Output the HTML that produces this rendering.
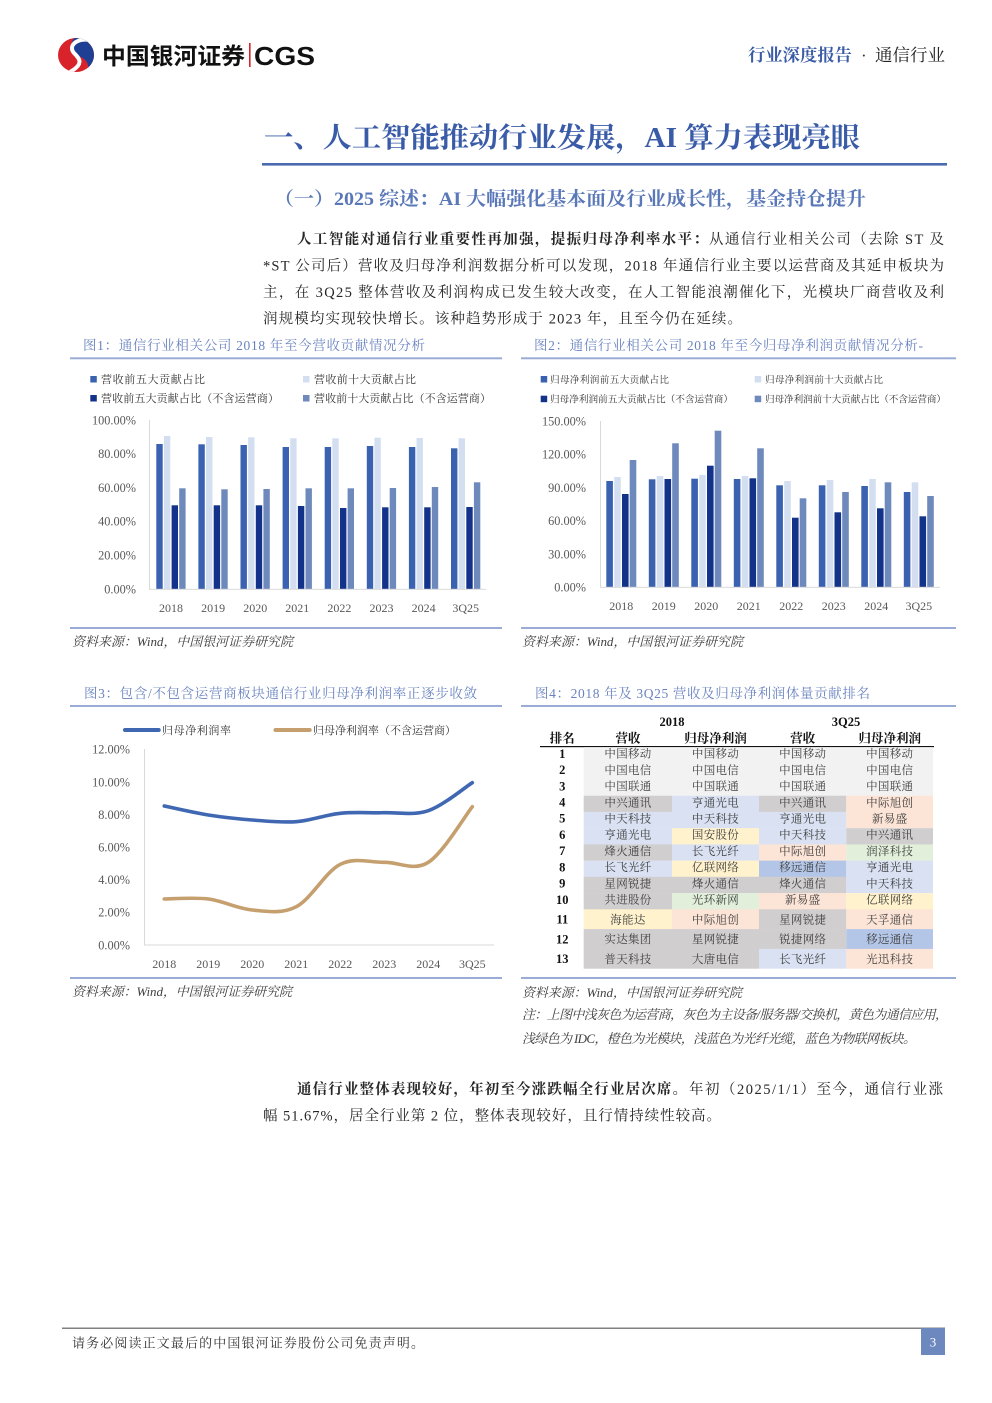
<!DOCTYPE html>
<html><head><meta charset="utf-8"><style>
html,body{margin:0;padding:0;background:#fff;}
svg{display:block;}
.s{font-family:"Liberation Serif","Noto Serif CJK SC",serif;}
.ss{font-family:"Liberation Sans","Noto Sans CJK SC",sans-serif;}
</style></head><body>
<svg width="992" height="1403" viewBox="0 0 992 1403" xmlns="http://www.w3.org/2000/svg">
<rect width="992" height="1403" fill="#fff"/>
<defs><clipPath id="lc"><ellipse cx="76" cy="55" rx="18" ry="17"/></clipPath></defs>
<!-- logo -->
<g clip-path="url(#lc)">
<rect x="56" y="36" width="42" height="40" fill="#d8232a"/>
<path d="M70,36 L100,36 L100,76 L86,76 C92,66 86,58 78,56 C70,53 70,44 74,38 Z" fill="#1f3f95"/>
<path d="M90,40 C76,38 68,46 74,53 C80,59 84,64 70,72" stroke="#fff" stroke-width="4" fill="none"/>
</g>
<text x="102" y="64" class="ss" font-size="23" font-weight="700" fill="#111" textLength="143" lengthAdjust="spacingAndGlyphs">中国银河证券</text>
<rect x="249" y="43" width="1.6" height="24" fill="#d8232a"/>
<text x="254" y="65" class="ss" font-size="26" font-weight="700" fill="#111" textLength="61" lengthAdjust="spacingAndGlyphs">CGS</text>
<text x="748" y="61" class="s" font-size="17" font-weight="700" fill="#3a5ba5" textLength="104" lengthAdjust="spacingAndGlyphs">行业深度报告</text>
<text x="861" y="61" class="s" font-size="17" fill="#333">·</text>
<text x="875" y="61" class="s" font-size="17" fill="#222" textLength="70" lengthAdjust="spacingAndGlyphs">通信行业</text>

<!-- title -->
<text x="264" y="147" class="s" font-size="28" font-weight="700" fill="#3a5ca8" textLength="596" lengthAdjust="spacingAndGlyphs">一、人工智能推动行业发展，AI 算力表现亮眼</text>
<rect x="262" y="163" width="685" height="2.6" fill="#4a6ab0"/>
<text x="274" y="205" class="s" font-size="19" font-weight="700" fill="#5a78b8" textLength="592" lengthAdjust="spacingAndGlyphs">（一）2025 综述：AI 大幅强化基本面及行业成长性，基金持仓提升</text>

<!-- paragraph -->
<g class="s" font-size="14.5" fill="#262626">
<text x="297" y="244" font-weight="700" textLength="411" lengthAdjust="spacing">人工智能对通信行业重要性再加强，提振归母净利率水平：</text>
<text x="709" y="244" textLength="235" lengthAdjust="spacing">从通信行业相关公司（去除 ST 及</text>
<text x="263" y="270.5" textLength="681" lengthAdjust="spacing">*ST 公司后）营收及归母净利润数据分析可以发现，2018 年通信行业主要以运营商及其延申板块为</text>
<text x="263" y="297" textLength="681" lengthAdjust="spacing">主，在 3Q25 整体营收及利润构成已发生较大改变，在人工智能浪潮催化下，光模块厂商营收及利</text>
<text x="263" y="323.5" textLength="479" lengthAdjust="spacing">润规模均实现较快增长。该种趋势形成于 2023 年，且至今仍在延续。</text>
</g>

<!-- captions -->
<g class="s" font-size="13.5" fill="#6a83c0">
<text x="83" y="350" textLength="342" lengthAdjust="spacing">图1：通信行业相关公司 2018 年至今营收贡献情况分析</text>
<text x="534" y="350" textLength="389" lengthAdjust="spacing">图2：通信行业相关公司 2018 年至今归母净利润贡献情况分析-</text>
<text x="84" y="698" textLength="393" lengthAdjust="spacing">图3：包含/不包含运营商板块通信行业归母净利润率正逐步收敛</text>
<text x="535" y="698" textLength="335" lengthAdjust="spacing">图4：2018 年及 3Q25 营收及归母净利润体量贡献排名</text>
</g>
<g fill="#9aabd6">
<rect x="70" y="357.3" width="432" height="2"/>
<rect x="521" y="357.3" width="435" height="2"/>
<rect x="70" y="627" width="432" height="2"/>
<rect x="521" y="627" width="435" height="2"/>
<rect x="70" y="705" width="432" height="2"/>
<rect x="521" y="705" width="435" height="2"/>
<rect x="70" y="977" width="432" height="2"/>
<rect x="521" y="977" width="435" height="2"/>
</g>

<!-- chart 1 -->
<g class="s" font-size="11" fill="#333">
<rect x="90.3" y="376" width="6.5" height="6.5" fill="#3a62b0"/>
<text x="101" y="383" textLength="104" lengthAdjust="spacing">营收前五大贡献占比</text>
<rect x="303" y="376" width="6.5" height="6.5" fill="#d3dff1"/>
<text x="314" y="383" textLength="102" lengthAdjust="spacing">营收前十大贡献占比</text>
<rect x="90.3" y="395" width="6.5" height="6.5" fill="#13338a"/>
<text x="101" y="402" textLength="178" lengthAdjust="spacing">营收前五大贡献占比（不含运营商）</text>
<rect x="303" y="395" width="6.5" height="6.5" fill="#6e89bb"/>
<text x="314" y="402" textLength="177" lengthAdjust="spacing">营收前十大贡献占比（不含运营商）</text>
</g>
<g class="s" font-size="12.3" fill="#595959" text-anchor="end">
<text x="136" y="424.3">100.00%</text>
<text x="136" y="457.9">80.00%</text>
<text x="136" y="491.8">60.00%</text>
<text x="136" y="525.6">40.00%</text>
<text x="136" y="559.5">20.00%</text>
<text x="136" y="593.6">0.00%</text>
</g>
<rect x="149" y="420" width="1" height="169.3" fill="#d9d9d9"/>
<g>
<rect x="156.3" y="444.0" width="6.4" height="145.3" fill="#3a62b0"/><rect x="163.9" y="436.0" width="6.4" height="153.3" fill="#d3dff1"/><rect x="171.6" y="505.3" width="6.4" height="84.0" fill="#13338a"/><rect x="179.2" y="488.3" width="6.4" height="101.0" fill="#6e89bb"/>
<rect x="198.4" y="444.3" width="6.4" height="145.0" fill="#3a62b0"/><rect x="206.0" y="437.0" width="6.4" height="152.3" fill="#d3dff1"/><rect x="213.7" y="505.3" width="6.4" height="84.0" fill="#13338a"/><rect x="221.3" y="489.3" width="6.4" height="100.0" fill="#6e89bb"/>
<rect x="240.5" y="445.0" width="6.4" height="144.3" fill="#3a62b0"/><rect x="248.1" y="437.3" width="6.4" height="152.0" fill="#d3dff1"/><rect x="255.8" y="505.3" width="6.4" height="84.0" fill="#13338a"/><rect x="263.4" y="489.0" width="6.4" height="100.3" fill="#6e89bb"/>
<rect x="282.6" y="447.0" width="6.4" height="142.3" fill="#3a62b0"/><rect x="290.2" y="438.3" width="6.4" height="151.0" fill="#d3dff1"/><rect x="297.9" y="506.0" width="6.4" height="83.3" fill="#13338a"/><rect x="305.5" y="488.3" width="6.4" height="101.0" fill="#6e89bb"/>
<rect x="324.7" y="447.0" width="6.4" height="142.3" fill="#3a62b0"/><rect x="332.3" y="438.3" width="6.4" height="151.0" fill="#d3dff1"/><rect x="340.0" y="508.0" width="6.4" height="81.3" fill="#13338a"/><rect x="347.6" y="488.3" width="6.4" height="101.0" fill="#6e89bb"/>
<rect x="366.8" y="446.0" width="6.4" height="143.3" fill="#3a62b0"/><rect x="374.4" y="437.7" width="6.4" height="151.6" fill="#d3dff1"/><rect x="382.1" y="507.3" width="6.4" height="82.0" fill="#13338a"/><rect x="389.7" y="488.0" width="6.4" height="101.3" fill="#6e89bb"/>
<rect x="408.9" y="447.0" width="6.4" height="142.3" fill="#3a62b0"/><rect x="416.5" y="438.0" width="6.4" height="151.3" fill="#d3dff1"/><rect x="424.2" y="507.3" width="6.4" height="82.0" fill="#13338a"/><rect x="431.8" y="487.0" width="6.4" height="102.3" fill="#6e89bb"/>
<rect x="451.0" y="448.3" width="6.4" height="141.0" fill="#3a62b0"/><rect x="458.6" y="438.3" width="6.4" height="151.0" fill="#d3dff1"/><rect x="466.3" y="507.0" width="6.4" height="82.3" fill="#13338a"/><rect x="473.9" y="482.3" width="6.4" height="107.0" fill="#6e89bb"/>
</g>
<rect x="149" y="588.8" width="337" height="1" fill="#d9d9d9"/>
<g class="s" font-size="12" fill="#595959" text-anchor="middle">
<text x="171.0" y="612">2018</text><text x="213.1" y="612">2019</text><text x="255.2" y="612">2020</text><text x="297.3" y="612">2021</text>
<text x="339.4" y="612">2022</text><text x="381.5" y="612">2023</text><text x="423.6" y="612">2024</text><text x="465.7" y="612">3Q25</text>
</g>

<!-- chart 2 -->
<g class="s" font-size="9.6" fill="#333">
<rect x="540.7" y="376" width="6.5" height="6.5" fill="#3a62b0"/>
<text x="550" y="383" textLength="119" lengthAdjust="spacing">归母净利润前五大贡献占比</text>
<rect x="754.7" y="376" width="6.5" height="6.5" fill="#d3dff1"/>
<text x="765" y="383" textLength="118" lengthAdjust="spacing">归母净利润前十大贡献占比</text>
<rect x="540.7" y="395.7" width="6.5" height="6.5" fill="#13338a"/>
<text x="550" y="402.7" textLength="183" lengthAdjust="spacing">归母净利润前五大贡献占比（不含运营商）</text>
<rect x="754.7" y="395.7" width="6.5" height="6.5" fill="#6e89bb"/>
<text x="765" y="402.7" textLength="181" lengthAdjust="spacing">归母净利润前十大贡献占比（不含运营商）</text>
</g>
<g class="s" font-size="12.3" fill="#595959" text-anchor="end">
<text x="586" y="425.3">150.00%</text>
<text x="586" y="458.6">120.00%</text>
<text x="586" y="491.8">90.00%</text>
<text x="586" y="525.1">60.00%</text>
<text x="586" y="558.3">30.00%</text>
<text x="586" y="591.6">0.00%</text>
</g>
<rect x="600" y="421" width="1" height="166.3" fill="#d9d9d9"/>
<g>
<rect x="606.3" y="481.0" width="6.6" height="106.3" fill="#3a62b0"/><rect x="614.2" y="477.0" width="6.6" height="110.3" fill="#d3dff1"/><rect x="622.0" y="494.0" width="6.6" height="93.3" fill="#13338a"/><rect x="629.7" y="460.0" width="6.6" height="127.3" fill="#6e89bb"/>
<rect x="648.8" y="479.3" width="6.6" height="108.0" fill="#3a62b0"/><rect x="656.7" y="476.0" width="6.6" height="111.3" fill="#d3dff1"/><rect x="664.5" y="479.0" width="6.6" height="108.3" fill="#13338a"/><rect x="672.2" y="443.3" width="6.6" height="144.0" fill="#6e89bb"/>
<rect x="691.3" y="478.7" width="6.6" height="108.6" fill="#3a62b0"/><rect x="699.2" y="475.0" width="6.6" height="112.3" fill="#d3dff1"/><rect x="707.0" y="465.7" width="6.6" height="121.6" fill="#13338a"/><rect x="714.7" y="430.7" width="6.6" height="156.6" fill="#6e89bb"/>
<rect x="733.8" y="479.0" width="6.6" height="108.3" fill="#3a62b0"/><rect x="741.7" y="476.0" width="6.6" height="111.3" fill="#d3dff1"/><rect x="749.5" y="478.3" width="6.6" height="109.0" fill="#13338a"/><rect x="757.2" y="448.3" width="6.6" height="139.0" fill="#6e89bb"/>
<rect x="776.3" y="485.3" width="6.6" height="102.0" fill="#3a62b0"/><rect x="784.2" y="481.0" width="6.6" height="106.3" fill="#d3dff1"/><rect x="792.0" y="517.7" width="6.6" height="69.6" fill="#13338a"/><rect x="799.7" y="498.3" width="6.6" height="89.0" fill="#6e89bb"/>
<rect x="818.8" y="485.3" width="6.6" height="102.0" fill="#3a62b0"/><rect x="826.7" y="480.0" width="6.6" height="107.3" fill="#d3dff1"/><rect x="834.5" y="512.3" width="6.6" height="75.0" fill="#13338a"/><rect x="842.2" y="492.0" width="6.6" height="95.3" fill="#6e89bb"/>
<rect x="861.3" y="486.0" width="6.6" height="101.3" fill="#3a62b0"/><rect x="869.2" y="479.0" width="6.6" height="108.3" fill="#d3dff1"/><rect x="877.0" y="508.3" width="6.6" height="79.0" fill="#13338a"/><rect x="884.7" y="482.3" width="6.6" height="105.0" fill="#6e89bb"/>
<rect x="903.8" y="492.0" width="6.6" height="95.3" fill="#3a62b0"/><rect x="911.7" y="482.3" width="6.6" height="105.0" fill="#d3dff1"/><rect x="919.5" y="516.3" width="6.6" height="71.0" fill="#13338a"/><rect x="927.2" y="496.0" width="6.6" height="91.3" fill="#6e89bb"/>
</g>
<rect x="600" y="586.8" width="340" height="1" fill="#d9d9d9"/>
<g class="s" font-size="12" fill="#595959" text-anchor="middle">
<text x="621.3" y="610">2018</text><text x="663.8" y="610">2019</text><text x="706.3" y="610">2020</text><text x="748.8" y="610">2021</text>
<text x="791.3" y="610">2022</text><text x="833.8" y="610">2023</text><text x="876.3" y="610">2024</text><text x="918.8" y="610">3Q25</text>
</g>

<!-- sources 1/2 -->
<g class="s" font-size="13" font-style="italic" fill="#404040">
<text x="72" y="646" textLength="221" lengthAdjust="spacing">资料来源：Wind，中国银河证券研究院</text>
<text x="522" y="646" textLength="221" lengthAdjust="spacing">资料来源：Wind，中国银河证券研究院</text>
<text x="72" y="996" textLength="220" lengthAdjust="spacing">资料来源：Wind，中国银河证券研究院</text>
<text x="522" y="997" textLength="220" lengthAdjust="spacing">资料来源：Wind，中国银河证券研究院</text>
<text x="522" y="1019" textLength="426" lengthAdjust="spacing">注：上图中浅灰色为运营商，灰色为主设备/服务器/交换机，黄色为通信应用，</text>
<text x="522" y="1043" textLength="394" lengthAdjust="spacing">浅绿色为 IDC，橙色为光模块，浅蓝色为光纤光缆，蓝色为物联网板块。</text>
</g>

<!-- chart 3 -->
<line x1="125" y1="730" x2="158.7" y2="730" stroke="#4068b2" stroke-width="4" stroke-linecap="round"/>
<line x1="275.5" y1="730" x2="309.7" y2="730" stroke="#c5a06e" stroke-width="4" stroke-linecap="round"/>
<g class="s" font-size="11" fill="#333">
<text x="162" y="734" textLength="69" lengthAdjust="spacing">归母净利润率</text>
<text x="313" y="734" textLength="143" lengthAdjust="spacing">归母净利润率（不含运营商）</text>
</g>
<g class="s" font-size="12.3" fill="#595959" text-anchor="end">
<text x="130" y="753.6">12.00%</text>
<text x="130" y="786.3">10.00%</text>
<text x="130" y="818.8">8.00%</text>
<text x="130" y="851.3">6.00%</text>
<text x="130" y="884.1">4.00%</text>
<text x="130" y="916.7">2.00%</text>
<text x="130" y="949.3">0.00%</text>
</g>
<rect x="144" y="749" width="1" height="196" fill="#d9d9d9"/>
<rect x="144" y="944.5" width="350" height="1" fill="#d9d9d9"/>
<path d="M164.3,806 C171.6,807.5 193.6,812.7 208.3,815 C223,817.3 237.6,818.9 252.3,820 C267,821.1 281.6,822.8 296.3,821.7 C311,820.6 325.6,814.8 340.3,813.3 C355,811.8 369.6,813.1 384.3,812.7 C399,812.3 413.6,815.7 428.3,810.7 C443,805.7 465,787.3 472.3,782.7" fill="none" stroke="#4068b2" stroke-width="3.6" stroke-linecap="round"/>
<path d="M164.3,899 C171.6,899 193.6,897.2 208.3,899 C223,900.8 237.6,908.7 252.3,910 C267,911.3 281.6,914.3 296.3,906.7 C311,899.1 325.6,871.7 340.3,864.3 C355,856.9 369.6,862.6 384.3,862.3 C399,862 413.6,871.6 428.3,862.3 C443,853 465,816 472.3,806.7" fill="none" stroke="#c5a06e" stroke-width="3.6" stroke-linecap="round"/>
<g class="s" font-size="12" fill="#595959" text-anchor="middle">
<text x="164.3" y="968">2018</text><text x="208.3" y="968">2019</text><text x="252.3" y="968">2020</text><text x="296.3" y="968">2021</text>
<text x="340.3" y="968">2022</text><text x="384.3" y="968">2023</text><text x="428.3" y="968">2024</text><text x="472.3" y="968">3Q25</text>
</g>

<!-- table (chart 4) -->
<g class="s" font-size="12.5" font-weight="700" fill="#111" text-anchor="middle">
<text x="672" y="726">2018</text>
<text x="846" y="726">3Q25</text>
<text x="562.3" y="742.5">排名</text>
<text x="628" y="742.5">营收</text>
<text x="715.5" y="742.5">归母净利润</text>
<text x="802.7" y="742.5">营收</text>
<text x="889.7" y="742.5">归母净利润</text>
</g>
<rect x="540" y="746" width="394" height="1.2" fill="#111"/>
<g>
<!-- rows 1-3 -->
<rect x="583.7" y="747.2" width="349.3" height="48.7" fill="#f2f2f2"/>
<!-- row 4 y=795.9 -->
<rect x="583.7" y="795.7" width="88.3" height="16.4" fill="#d0cece"/>
<rect x="672" y="795.7" width="87" height="16.4" fill="#d9e1f2"/>
<rect x="759" y="795.7" width="87.3" height="16.4" fill="#d0cece"/>
<rect x="846.3" y="795.7" width="86.7" height="16.4" fill="#fce4d6"/>
<!-- row 5 y=811.9 -->
<rect x="583.7" y="811.9" width="88.3" height="16.4" fill="#d9e1f2"/>
<rect x="672" y="811.9" width="87" height="16.4" fill="#d9e1f2"/>
<rect x="759" y="811.9" width="87.3" height="16.4" fill="#d9e1f2"/>
<rect x="846.3" y="811.9" width="86.7" height="16.4" fill="#fce4d6"/>
<!-- row 6 y=828.2 -->
<rect x="583.7" y="828.2" width="88.3" height="16.4" fill="#d9e1f2"/>
<rect x="672" y="828.2" width="87" height="16.4" fill="#fff2cc"/>
<rect x="759" y="828.2" width="87.3" height="16.4" fill="#d9e1f2"/>
<rect x="846.3" y="828.2" width="86.7" height="16.4" fill="#d0cece"/>
<!-- row 7 y=844.4 -->
<rect x="583.7" y="844.4" width="88.3" height="16.4" fill="#d0cece"/>
<rect x="672" y="844.4" width="87" height="16.4" fill="#d9e1f2"/>
<rect x="759" y="844.4" width="87.3" height="16.4" fill="#fce4d6"/>
<rect x="846.3" y="844.4" width="86.7" height="16.4" fill="#e2efda"/>
<!-- row 8 y=860.6 -->
<rect x="583.7" y="860.6" width="88.3" height="16.4" fill="#d9e1f2"/>
<rect x="672" y="860.6" width="87" height="16.4" fill="#fff2cc"/>
<rect x="759" y="860.6" width="87.3" height="16.4" fill="#b4c6e7"/>
<rect x="846.3" y="860.6" width="86.7" height="16.4" fill="#d9e1f2"/>
<!-- row 9 y=876.8 -->
<rect x="583.7" y="876.8" width="88.3" height="16.4" fill="#d0cece"/>
<rect x="672" y="876.8" width="87" height="16.4" fill="#d0cece"/>
<rect x="759" y="876.8" width="87.3" height="16.4" fill="#d0cece"/>
<rect x="846.3" y="876.8" width="86.7" height="16.4" fill="#d9e1f2"/>
<!-- row 10 y=893.1 -->
<rect x="583.7" y="893.1" width="88.3" height="16.4" fill="#d0cece"/>
<rect x="672" y="893.1" width="87" height="16.4" fill="#e2efda"/>
<rect x="759" y="893.1" width="87.3" height="16.4" fill="#fce4d6"/>
<rect x="846.3" y="893.1" width="86.7" height="16.4" fill="#fff2cc"/>
<!-- row 11 y=909.3 -->
<rect x="583.7" y="909.3" width="88.3" height="20" fill="#fff2cc"/>
<rect x="672" y="909.3" width="87" height="20" fill="#fce4d6"/>
<rect x="759" y="909.3" width="87.3" height="20" fill="#d0cece"/>
<rect x="846.3" y="909.3" width="86.7" height="20" fill="#fce4d6"/>
<!-- row 12 y=929.1 -->
<rect x="583.7" y="929.1" width="88.3" height="20" fill="#d0cece"/>
<rect x="672" y="929.1" width="87" height="20" fill="#d0cece"/>
<rect x="759" y="929.1" width="87.3" height="20" fill="#d0cece"/>
<rect x="846.3" y="929.1" width="86.7" height="20" fill="#b4c6e7"/>
<!-- row 13 y=948.9 -->
<rect x="583.7" y="948.9" width="88.3" height="19.8" fill="#d0cece"/>
<rect x="672" y="948.9" width="87" height="19.8" fill="#d0cece"/>
<rect x="759" y="948.9" width="87.3" height="19.8" fill="#d9e1f2"/>
<rect x="846.3" y="948.9" width="86.7" height="19.8" fill="#fce4d6"/>
</g>
<g class="s" font-size="12.5" font-weight="700" fill="#111" text-anchor="middle">
<text x="562.3" y="757.8">1</text><text x="562.3" y="774.1">2</text><text x="562.3" y="790.3">3</text>
<text x="562.3" y="806.5">4</text><text x="562.3" y="822.7">5</text><text x="562.3" y="839">6</text>
<text x="562.3" y="855.2">7</text><text x="562.3" y="871.4">8</text><text x="562.3" y="887.6">9</text>
<text x="562.3" y="903.9">10</text><text x="562.3" y="923.7">11</text><text x="562.3" y="943.5">12</text>
<text x="562.3" y="963.2">13</text>
</g>
<g class="s" font-size="11.5" fill="#404040" text-anchor="middle" letter-spacing="0.3">
<text x="628" y="757.6">中国移动</text><text x="715.5" y="757.6">中国移动</text><text x="802.7" y="757.6">中国移动</text><text x="889.7" y="757.6">中国移动</text>
<text x="628" y="773.8">中国电信</text><text x="715.5" y="773.8">中国电信</text><text x="802.7" y="773.8">中国电信</text><text x="889.7" y="773.8">中国电信</text>
<text x="628" y="790">中国联通</text><text x="715.5" y="790">中国联通</text><text x="802.7" y="790">中国联通</text><text x="889.7" y="790">中国联通</text>
<text x="628" y="806.3">中兴通讯</text><text x="715.5" y="806.3">亨通光电</text><text x="802.7" y="806.3">中兴通讯</text><text x="889.7" y="806.3">中际旭创</text>
<text x="628" y="822.5">中天科技</text><text x="715.5" y="822.5">中天科技</text><text x="802.7" y="822.5">亨通光电</text><text x="889.7" y="822.5">新易盛</text>
<text x="628" y="838.7">亨通光电</text><text x="715.5" y="838.7">国安股份</text><text x="802.7" y="838.7">中天科技</text><text x="889.7" y="838.7">中兴通讯</text>
<text x="628" y="855">烽火通信</text><text x="715.5" y="855">长飞光纤</text><text x="802.7" y="855">中际旭创</text><text x="889.7" y="855">润泽科技</text>
<text x="628" y="871.2">长飞光纤</text><text x="715.5" y="871.2">亿联网络</text><text x="802.7" y="871.2">移远通信</text><text x="889.7" y="871.2">亨通光电</text>
<text x="628" y="887.4">星网锐捷</text><text x="715.5" y="887.4">烽火通信</text><text x="802.7" y="887.4">烽火通信</text><text x="889.7" y="887.4">中天科技</text>
<text x="628" y="903.7">共进股份</text><text x="715.5" y="903.7">光环新网</text><text x="802.7" y="903.7">新易盛</text><text x="889.7" y="903.7">亿联网络</text>
<text x="628" y="923.4">海能达</text><text x="715.5" y="923.4">中际旭创</text><text x="802.7" y="923.4">星网锐捷</text><text x="889.7" y="923.4">天孚通信</text>
<text x="628" y="943.2">实达集团</text><text x="715.5" y="943.2">星网锐捷</text><text x="802.7" y="943.2">锐捷网络</text><text x="889.7" y="943.2">移远通信</text>
<text x="628" y="962.9">普天科技</text><text x="715.5" y="962.9">大唐电信</text><text x="802.7" y="962.9">长飞光纤</text><text x="889.7" y="962.9">光迅科技</text>
</g>

<!-- bottom paragraph -->
<g class="s" font-size="14.5" fill="#262626">
<text x="297" y="1094" font-weight="700" textLength="390" lengthAdjust="spacing">通信行业整体表现较好，年初至今涨跌幅全行业居次席。</text>
<text x="689" y="1094" textLength="254" lengthAdjust="spacing">年初（2025/1/1）至今，通信行业涨</text>
<text x="263" y="1120.5" textLength="458" lengthAdjust="spacing">幅 51.67%，居全行业第 2 位，整体表现较好，且行情持续性较高。</text>
</g>

<!-- footer -->
<rect x="62" y="1327.5" width="883" height="1.5" fill="#808080"/>
<text x="72" y="1347.5" class="s" font-size="13" fill="#333" textLength="352" lengthAdjust="spacing">请务必阅读正文最后的中国银河证券股份公司免责声明。</text>
<rect x="921" y="1328" width="24" height="27" fill="#6d87bf"/>
<text x="933" y="1346.5" class="s" font-size="13" fill="#fff" text-anchor="middle">3</text>
</svg>
</body></html>
